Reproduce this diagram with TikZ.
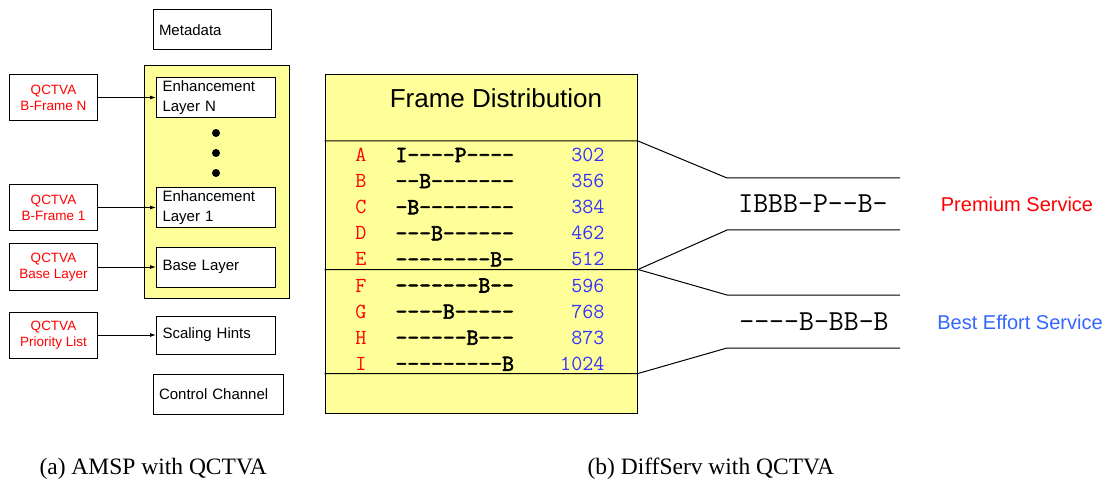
\documentclass[tikz,border=0pt]{standalone}
\usepackage{fontspec}
\setmainfont{Liberation Sans}
\setmonofont{Latin Modern Mono}[AutoFakeBold=2.5]
\newfontfamily\capfont{Liberation Serif}
\usetikzlibrary{arrows.meta,positioning}
\definecolor{padyellow}{HTML}{FFFF99}
\definecolor{qred}{HTML}{FF0000}
\definecolor{numblue}{HTML}{3333FF}
\definecolor{beblue}{HTML}{3366FF}

\begin{document}
\begin{tikzpicture}[x=1pt, y=-1pt,
    layerbox/.style={draw, line width=1pt, fill=white, align=left, inner xsep=6pt,
      text width=#1, minimum height=40pt, font=\fontsize{15}{20}\selectfont},
    qbox/.style={draw, line width=1pt, text=qred, align=center, minimum width=88pt,
      minimum height=46pt, font=\fontsize{13.5}{16}\selectfont},
    pad/.style={draw, line width=1pt, fill=padyellow, inner sep=0pt},
    arr/.style={line width=0.9pt, -{Latex[length=6pt,width=4pt]}},
    fan/.style={line width=1pt},
    seq/.style={font=\fontsize{23}{24}\ttfamily\bfseries, anchor=west},
    num/.style={font=\fontsize{21.5}{24}\ttfamily, text=numblue, anchor=east},
    lab/.style={font=\fontsize{21.5}{24}\ttfamily, text=qred},
    captext/.style={font=\fontsize{23.5}{26}\capfont, anchor=base west}]
  \useasboundingbox (0,0) rectangle (1111,481);

  % (a) AMSP
  \node[pad, minimum width=145pt, minimum height=232pt] (layers) at (216.5,182) {};
  \node[layerbox=106pt] (meta) at (212,30) {Metadata};
  \node[layerbox=107pt, minimum height=39pt] (enhN) at (216,97.5) {Enhancement\\Layer N};
  \node[layerbox=107pt, minimum height=39pt] (enh1) at (216,207.5) {Enhancement\\Layer 1};
  \node[layerbox=107pt] (base) at (216,267) {Base Layer};
  \node[layerbox=107pt, minimum height=38pt] (hints) at (216,335) {Scaling Hints};
  \node[layerbox=118pt] (ctrl) at (218,394) {Control Channel};
  \foreach \y in {133,153,173}
    \fill (216,\y) circle (4pt);

  \node[qbox, left=58pt of enhN] (qN) {QCTVA\\B-Frame N};
  \node[qbox, left=58pt of enh1] (q1) {QCTVA\\B-Frame 1};
  \node[qbox, left=58pt of base] (qbase) {QCTVA\\Base Layer};
  \node[qbox, left=58pt of hints] (qprio) {QCTVA\\Priority List};
  \draw[arr] (qN) -- (enhN);
  \draw[arr] (q1) -- (enh1);
  \draw[arr] (qbase) -- (base);
  \draw[arr] (qprio) -- (hints);

  % (b) DiffServ
  \node[pad, minimum width=312pt, minimum height=338pt] (frame) at (481,244) {};
  \node[font=\fontsize{26}{28}\selectfont] (title) at (496,98) {Frame Distribution};
  \foreach \l/\s/\n [count=\i] in {A/I----P----/302, B/--B-------/356, C/-B--------/384,
      D/---B------/462, E/--------B-/512, F/-------B--/596, G/----B-----/768,
      H/------B---/873, I/---------B/1024} {
    \node[lab] (l\i) at (361,155+26.1*\i-26.1) {\l};
    \node[seq] (s\i) at (392,155+26.1*\i-26.1) {\s};
    \node[num] (n\i) at (608,155+26.1*\i-26.1) {\n};
  }

  \coordinate (t1) at (638,141);
  \coordinate (t2) at (638,269.5);
  \coordinate (t3) at (638,373.5);
  \coordinate (p1) at (727,178);
  \coordinate (p1e) at (900,178);
  \coordinate (p2) at (727,230);
  \coordinate (p2e) at (900,230);
  \coordinate (b1) at (727,295);
  \coordinate (b1e) at (900,295);
  \coordinate (b2) at (727,348);
  \coordinate (b2e) at (900,348);
  \draw[fan] (frame.west |- t1) -- (t1) -- (p1) -- (p1e);
  \draw[fan] (frame.west |- t2) -- (t2) -- (p2) -- (p2e);
  \draw[fan] (t2) -- (b1) -- (b1e);
  \draw[fan] (frame.west |- t3) -- (t3) -- (b2) -- (b2e);

  \node[font=\fontsize{29}{30}\ttfamily] (premseq) at (813,204) {IBBB-P--B-};
  \node[font=\fontsize{29}{30}\ttfamily] (beseq) at (814,322) {----B-BB-B};
  \node[font=\fontsize{20}{22}\selectfont, text=qred] (prem) at (1017,204) {Premium Service};
  \node[font=\fontsize{20}{22}\selectfont, text=beblue] (best) at (1020,322) {Best Effort Service};

  \node[captext] (capa) at (36,474) {(a) AMSP with QCTVA};
  \node[captext] (capb) at (584,474) {(b) DiffServ with QCTVA};
\end{tikzpicture}
\end{document}
